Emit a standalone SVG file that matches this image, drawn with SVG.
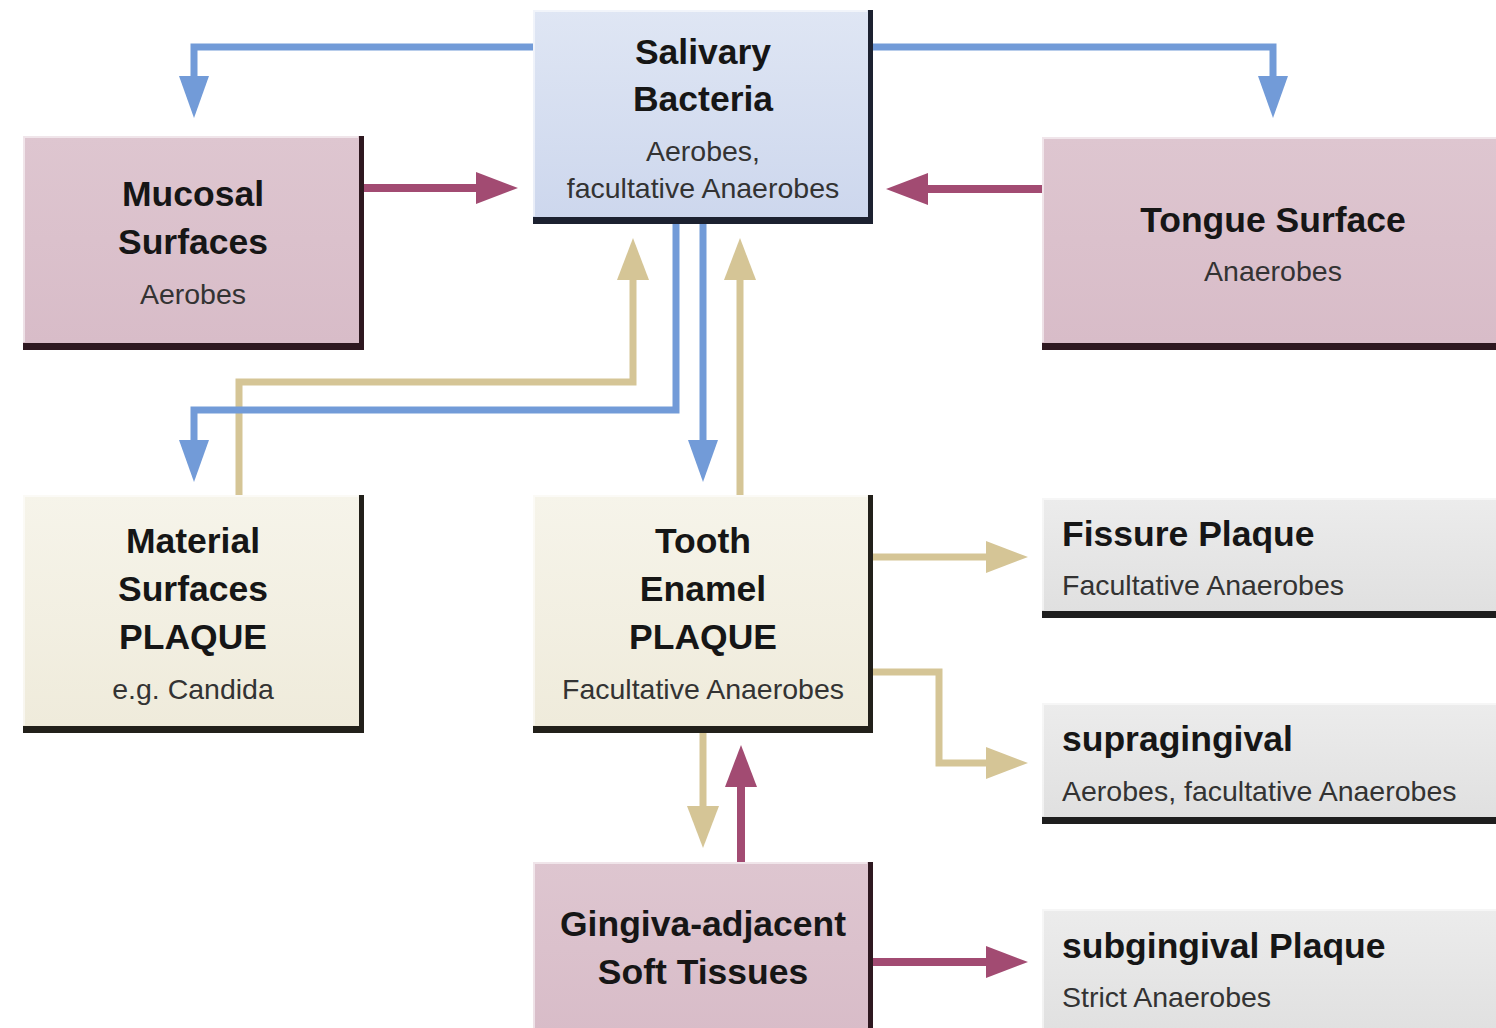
<svg xmlns="http://www.w3.org/2000/svg" width="1496" height="1028" viewBox="0 0 1496 1028">
<style>
.t{font-family:"Liberation Sans",Arial,sans-serif;font-weight:bold;font-size:35.5px;fill:#161616;text-anchor:middle}
.s{font-family:"Liberation Sans",Arial,sans-serif;font-size:28.5px;fill:#333;text-anchor:middle}
.l{text-anchor:start}
.blue{fill:url(#gb)}
.pink{fill:url(#gp)}
.cream{fill:url(#gc)}
.gray{fill:url(#gg)}
.hl{fill:none;stroke:#ffffff;stroke-opacity:0.55;stroke-width:2}
.cb{fill:none;stroke:#729bd8;stroke-width:7}
.cp{fill:none;stroke:#a24b72;stroke-width:8}
.ct{fill:none;stroke:#d5c596;stroke-width:7}
</style>
<defs>
<linearGradient id="gb" x1="0" y1="0" x2="0" y2="1"><stop offset="0" stop-color="#dfe6f4"/><stop offset="1" stop-color="#cdd7ed"/></linearGradient>
<linearGradient id="gp" x1="0" y1="0" x2="0" y2="1"><stop offset="0" stop-color="#dec6d0"/><stop offset="1" stop-color="#d8bcc8"/></linearGradient>
<linearGradient id="gc" x1="0" y1="0" x2="0" y2="1"><stop offset="0" stop-color="#f6f4ea"/><stop offset="1" stop-color="#efebdb"/></linearGradient>
<linearGradient id="gg" x1="0" y1="0" x2="0" y2="1"><stop offset="0" stop-color="#ececec"/><stop offset="1" stop-color="#e0e0e0"/></linearGradient>
<marker id="ab" viewBox="0 0 42 30" refX="0" refY="15" markerWidth="42" markerHeight="30" markerUnits="userSpaceOnUse" orient="auto"><path d="M0,0 L42,15 L0,30 z" fill="#729bd8"/></marker>
<marker id="ap" viewBox="0 0 42 32" refX="0" refY="16" markerWidth="42" markerHeight="32" markerUnits="userSpaceOnUse" orient="auto"><path d="M0,0 L42,16 L0,32 z" fill="#a24b72"/></marker>
<marker id="at" viewBox="0 0 42 32" refX="0" refY="16" markerWidth="42" markerHeight="32" markerUnits="userSpaceOnUse" orient="auto"><path d="M0,0 L42,16 L0,32 z" fill="#d5c596"/></marker>
</defs>
<rect width="1496" height="1028" fill="#ffffff"/>

<g id="connectors">
<path class="cb" d="M533,47 H194 V76" marker-end="url(#ab)"/>
<path class="cb" d="M873,47 H1273 V76" marker-end="url(#ab)"/>
<path class="cp" d="M363,188 H476" marker-end="url(#ap)"/>
<path class="cp" d="M1043,189 H928" marker-end="url(#ap)"/>
<path class="ct" d="M239,495 V382 H633 V280" marker-end="url(#at)"/>
<path class="cb" d="M676,222 V410 H194 V440" marker-end="url(#ab)"/>
<path class="cb" d="M703,222 V440" marker-end="url(#ab)"/>
<path class="ct" d="M740,495 V280" marker-end="url(#at)"/>
<path class="ct" d="M871,557 H986" marker-end="url(#at)"/>
<path class="ct" d="M871,672 H939 V763 H986" marker-end="url(#at)"/>
<path class="ct" d="M703,732 V806" marker-end="url(#at)"/>
<path class="cp" d="M741,862 V787" marker-end="url(#ap)"/>
<path class="cp" d="M871,962 H986" marker-end="url(#ap)"/>
</g>

<g id="salivary">
<rect x="533" y="10" width="340" height="214" fill="#1c2130"/>
<rect class="blue" x="533" y="10" width="335" height="207"/>
<path class="hl" d="M534,216 V11 H867"/>
<text class="t" x="703" y="64">Salivary</text>
<text class="t" x="703" y="111">Bacteria</text>
<text class="s" x="703" y="161">Aerobes,</text>
<text class="s" x="703" y="198">facultative Anaerobes</text>
</g>

<g id="mucosal">
<rect x="23" y="136" width="341" height="214" fill="#2e1820"/>
<rect class="pink" x="23" y="136" width="336" height="207"/>
<path class="hl" d="M24,342 V137 H358"/>
<text class="t" x="193" y="206">Mucosal</text>
<text class="t" x="193" y="254">Surfaces</text>
<text class="s" x="193" y="304">Aerobes</text>
</g>

<g id="tongue">
<rect x="1042" y="137" width="460" height="213" fill="#2e1820"/>
<rect class="pink" x="1042" y="137" width="460" height="206"/>
<path class="hl" d="M1043,342 V138 H1496"/>
<text class="t" x="1273" y="232">Tongue Surface</text>
<text class="s" x="1273" y="281">Anaerobes</text>
</g>

<g id="material">
<rect x="23" y="495" width="341" height="238" fill="#22201a"/>
<rect class="cream" x="23" y="495" width="336" height="231"/>
<path class="hl" d="M24,725 V496 H358"/>
<text class="t" x="193" y="553">Material</text>
<text class="t" x="193" y="601">Surfaces</text>
<text class="t" x="193" y="649">PLAQUE</text>
<text class="s" x="193" y="699">e.g. Candida</text>
</g>

<g id="tooth">
<rect x="533" y="495" width="340" height="238" fill="#22201a"/>
<rect class="cream" x="533" y="495" width="335" height="231"/>
<path class="hl" d="M534,725 V496 H867"/>
<text class="t" x="703" y="553">Tooth</text>
<text class="t" x="703" y="601">Enamel</text>
<text class="t" x="703" y="649">PLAQUE</text>
<text class="s" x="703" y="699">Facultative Anaerobes</text>
</g>

<g id="fissure">
<rect x="1042" y="498" width="460" height="120" fill="#1e1e1e"/>
<rect class="gray" x="1042" y="498" width="460" height="113"/>
<path class="hl" d="M1043,610 V499 H1496"/>
<text class="t l" x="1062" y="546">Fissure Plaque</text>
<text class="s l" x="1062" y="595">Facultative Anaerobes</text>
</g>

<g id="supragingival">
<rect x="1042" y="703" width="460" height="121" fill="#1e1e1e"/>
<rect class="gray" x="1042" y="703" width="460" height="114"/>
<path class="hl" d="M1043,816 V704 H1496"/>
<text class="t l" x="1062" y="751">supragingival</text>
<text class="s l" x="1062" y="801">Aerobes, facultative Anaerobes</text>
</g>

<g id="subgingival">
<rect x="1042" y="909" width="460" height="125" fill="#1e1e1e"/>
<rect class="gray" x="1042" y="909" width="460" height="125"/>
<path class="hl" d="M1043,1028 V910 H1496"/>
<text class="t l" x="1062" y="958">subgingival Plaque</text>
<text class="s l" x="1062" y="1007">Strict Anaerobes</text>
</g>

<g id="gingiva">
<rect x="533" y="862" width="340" height="172" fill="#2e1820"/>
<rect class="pink" x="533" y="862" width="335" height="172"/>
<path class="hl" d="M534,1028 V863 H867"/>
<text class="t" x="703" y="936">Gingiva-adjacent</text>
<text class="t" x="703" y="984">Soft Tissues</text>
</g>
</svg>
